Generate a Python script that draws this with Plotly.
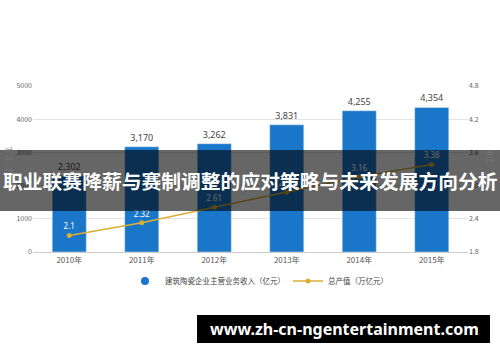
import plotly.graph_objects as go

years = ["2010年", "2011年", "2012年", "2013年", "2014年", "2015年"]
revenue = [2302, 3170, 3262, 3831, 4255, 4354]
revenue_labels = ["2,302", "3,170", "3,262", "3,831", "4,255", "4,354"]
output_value = [2.10, 2.33, 2.61, 2.88, 3.16, 3.38]
output_labels = ["2.1", "2.32", "2.61", "2.88", "3.16", "3.38"]
left_ticks = [0, 1000, 2000, 3000, 4000, 5000]
right_ticks = [1.8, 2.4, 3.0, 3.6, 4.2, 4.8]
title_text = "职业联赛降薪与赛制调整的应对策略与未来发展方向分析"
url_text = "www.zh-cn-ngentertainment.com"
bar_name = "建筑陶瓷企业主营业务收入（亿元）"
line_name = "总产值（万亿元）"

W, H = 500, 362
ML, MR, MT, MB = 33, 32, 86, 110
PW, PH = W - ML - MR, H - MT - MB


def px(x):
    return (x - ML) / PW


def py(y):
    return (H - MB - y) / PH


BLUE = "#1a76c9"
GOLD = "#dcae35"
CJK = "Noto Sans CJK SC"

fig = go.Figure()
fig.add_trace(go.Bar(
    x=years, y=revenue, text=revenue_labels, textposition="outside",
    textfont=dict(size=9, color="#444", family="Noto Sans"),
    marker_color=BLUE, showlegend=False, cliponaxis=False, yaxis="y",
))
fig.add_trace(go.Scatter(
    x=[None], y=[None], mode="markers", name=bar_name,
    marker=dict(color=BLUE, size=8, symbol="circle"),
))
fig.add_trace(go.Scatter(
    x=years, y=output_value, mode="lines+markers+text", name=line_name,
    text=output_labels, textposition="top center",
    textfont=dict(size=8, color="white", family="Noto Sans"),
    line=dict(color=GOLD, width=1.5),
    marker=dict(color=GOLD, size=5, symbol="circle"),
    yaxis="y2", cliponaxis=False,
))

fig.update_layout(
    width=W, height=H,
    margin=dict(l=ML, r=MR, t=MT, b=MB),
    paper_bgcolor="white", plot_bgcolor="white",
    bargap=0.53,
    font=dict(family=CJK, size=8, color="#555"),
    xaxis=dict(showgrid=False, showline=True, linecolor="#cccccc", linewidth=1,
               ticks="", tickfont=dict(size=8, color="#555")),
    yaxis=dict(range=[0, 5000], tickvals=left_ticks, showgrid=True,
               gridcolor="#e4e4e4", zeroline=False, ticks="",
               tickfont=dict(size=7, color="#666")),
    yaxis2=dict(range=[1.8, 4.8], tickvals=right_ticks, ticktext=[f"{v:.1f}" for v in right_ticks],
                overlaying="y", side="right", showgrid=False, zeroline=False,
                tickfont=dict(size=7, color="#666")),
    legend=dict(orientation="h", x=px(125), xanchor="left", y=py(281), yanchor="middle",
                font=dict(size=7.5, color="#444", family=CJK), bgcolor="rgba(0,0,0,0)",
                itemwidth=30, tracegroupgap=0, entrywidth=118, entrywidthmode="pixels"),
    shapes=[
        dict(type="rect", xref="paper", yref="paper", x0=px(0), x1=px(500),
             y0=py(211), y1=py(150), fillcolor="rgba(0,0,0,0.6)", line_width=0, layer="above"),
        dict(type="rect", xref="paper", yref="paper", x0=px(197), x1=px(490),
             y0=py(343), y1=py(315), fillcolor="black", line_width=0, layer="above"),
    ],
    annotations=[
        dict(text="单位：亿元", xref="paper", yref="paper", x=px(8), y=py(165),
             xanchor="center", yanchor="middle",
             textangle=-90, showarrow=False, font=dict(size=7, color="#777")),
        dict(text="单位：万亿元", xref="paper", yref="paper", x=px(490), y=py(170),
             xanchor="center", yanchor="middle",
             textangle=90, showarrow=False, font=dict(size=7, color="#777")),
        dict(text="<b>" + title_text + "</b>", xref="paper", yref="paper", x=px(250), y=py(180.5),
             xanchor="center", yanchor="middle",
             showarrow=False, font=dict(size=19.8, color="white", family=CJK)),
        dict(text="<b>" + url_text + "</b>", xref="paper", yref="paper", x=px(344), y=py(329),
             xanchor="center", yanchor="middle",
             showarrow=False, font=dict(size=16, color="white", family="Noto Sans")),
    ],
)

fig.write_html("out.html")
